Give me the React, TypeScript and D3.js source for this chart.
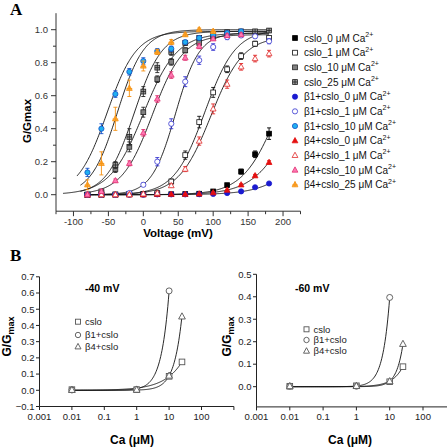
import React from 'react';
import * as d3 from 'd3';

// ---------- Panel A data ----------
const VOLTAGES = [-80, -60, -40, -20, 0, 20, 40, 60, 80, 100, 120, 140, 160, 180];

const G_CSLO_0 = [0.0, 0.0, 0.0, 0.002, 0.002, 0.003, 0.003, 0.004, 0.006, 0.02, 0.058, 0.14, 0.245, 0.37];
const E_CSLO_0 = [0.005, 0.004, 0.004, 0.004, 0.004, 0.004, 0.004, 0.004, 0.005, 0.006, 0.01, 0.015, 0.02, 0.035];
const G_CSLO_1 = [0.0, 0.0, 0.002, 0.004, 0.005, 0.01, 0.08, 0.24, 0.44, 0.62, 0.76, 0.84, 0.915, 0.95];
const E_CSLO_1 = [0.005, 0.005, 0.005, 0.005, 0.005, 0.01, 0.015, 0.025, 0.035, 0.03, 0.02, 0.02, 0.015, 0.01];
const G_CSLO_10 = [0.0, 0.01, 0.155, 0.29, 0.5, 0.7, 0.805, 0.875, 0.92, 0.955, 0.975, 0.98, null, null];
const E_CSLO_10 = [0.005, 0.01, 0.02, 0.03, 0.03, 0.02, 0.02, 0.015, 0.01, 0.01, 0.01, 0.01, null, null];
const G_CSLO_25 = [0.0, 0.02, 0.18, 0.35, 0.625, 0.77, 0.865, 0.92, 0.95, 0.97, 0.985, 0.99, 0.99, 0.995];
const E_CSLO_25 = [0.005, 0.01, 0.02, 0.05, 0.03, 0.03, 0.02, 0.015, 0.01, 0.01, 0.01, 0.01, 0.01, 0.01];
const G_B1_0 = [0.0, 0.0, 0.0, 0.0, 0.0, 0.002, 0.002, 0.002, 0.003, 0.005, 0.01, 0.02, 0.045, 0.068];
const E_B1_0 = [0.004, 0.004, 0.004, 0.004, 0.004, 0.004, 0.004, 0.004, 0.004, 0.004, 0.004, 0.004, 0.005, 0.005];
const G_B1_1 = [0.0, 0.0, 0.0, 0.01, 0.06, 0.2, 0.43, 0.685, 0.815, 0.895, 0.955, 0.965, 0.96, 0.93];
const E_B1_1 = [0.004, 0.004, 0.004, 0.006, 0.01, 0.025, 0.03, 0.03, 0.025, 0.02, 0.015, 0.01, 0.01, 0.015];
const G_B1_10 = [0.135, 0.4, 0.61, 0.745, 0.81, 0.87, 0.885, 0.925, 0.95, 0.97, 0.98, 0.99, null, null];
const E_B1_10 = [0.025, 0.03, 0.02, 0.02, 0.02, 0.015, 0.015, 0.01, 0.01, 0.01, 0.01, 0.01, null, null];
const G_B4_0 = [0.0, 0.0, 0.0, 0.0, 0.0, 0.003, 0.003, 0.003, 0.005, 0.012, 0.028, 0.06, 0.115, 0.196];
const E_B4_0 = [0.004, 0.004, 0.004, 0.004, 0.004, 0.004, 0.004, 0.004, 0.004, 0.004, 0.005, 0.006, 0.008, 0.01];
const G_B4_1 = [0.0, 0.0, 0.0, 0.0, 0.005, 0.01, 0.055, 0.155, 0.325, 0.52, 0.67, 0.775, 0.825, 0.855];
const E_B4_1 = [0.004, 0.004, 0.004, 0.004, 0.005, 0.006, 0.01, 0.015, 0.025, 0.03, 0.025, 0.02, 0.02, 0.02];
const G_B4_10 = [0.0, 0.02, 0.085, 0.19, 0.375, 0.58, 0.725, 0.83, 0.9, 0.945, 0.965, 0.97, null, null];
const E_B4_10 = [0.005, 0.01, 0.01, 0.015, 0.02, 0.02, 0.02, 0.015, 0.015, 0.01, 0.01, 0.01, null, null];
const G_B4_25 = [0.06, 0.19, 0.46, 0.645, 0.78, 0.865, 0.925, 0.97, 1.0, 0.99, null, null, null, null];
const E_B4_25 = [0.03, 0.07, 0.07, 0.05, 0.03, 0.015, 0.015, 0.01, 0.01, 0.01, null, null, null, null];

// Boltzmann fit parameters (order = legend order)
const SERIES_NAMES = [
  'cslo_0', 'cslo_1', 'cslo_10', 'cslo_25',
  'β1+cslo_0', 'β1+cslo_1', 'β1+cslo_10',
  'β4+cslo_0', 'β4+cslo_1', 'β4+cslo_10', 'β4+cslo_25',
];
const FIT_GMAX = [1, 1, 0.98, 0.99, 1, 0.98, 0.99, 1, 0.96, 0.97, 1.0];
const FIT_VHALF = [193, 88, 0, -13, 259, 46, -52, 219, 97, 13, -37];
const FIT_K = [25, 22, 24, 20, 30, 17, 21, 28, 23, 22, 19];
const FIT_VSTART = [-80, -80, -115, -90, -80, -80, -95, -80, -80, -85, -90];
const FIT_VEND = [180, 180, 180, 180, 180, 180, 180, 180, 180, 180, 180];

const X_TICKS_A = [-100, -50, 0, 50, 100, 150, 200];
const X_MINOR_A = [-125, -75, -25, 25, 75, 125, 175, 225];
const Y_TICKS_A = [0, 0.2, 0.4, 0.6, 0.8, 1.0];
const Y_MINOR_A = [0.1, 0.3, 0.5, 0.7, 0.9];

// ---------- Panel B data ----------
const CA = [0.01, 1, 10, 25];
const B40_CSLO = [0.004, 0.004, 0.086, 0.175];
const B40_B1 = [0.002, 0.006, 0.613, null];
const B40_B4 = [0.002, 0.003, 0.09, 0.455];
const B60_CSLO = [0.002, 0.004, 0.022, 0.089];
const B60_B1 = [0.002, 0.002, 0.397, null];
const B60_B4 = [0.002, 0.003, 0.024, 0.19];
// power-law fit parameters: value at 10 µM and exponent
const B40_FIT_G10 = [0.085, 0.61, 0.09];
const B40_FIT_N = [0.79, 1.8, 1.78];
const B60_FIT_G10 = [0.025, 0.397, 0.025];
const B60_FIT_N = [1.4, 2.1, 2.21];
const B_LEGEND = ['cslo', 'β1+cslo', 'β4+cslo'];
const B_MARKERS = ['square', 'circle', 'triangle'];
const X_TICKS_B = [0.001, 0.01, 0.1, 1, 10, 100, 1000];
const Y_TICKS_BL = [-0.1, 0, 0.1, 0.2, 0.3, 0.4, 0.5, 0.6, 0.7];
const Y_TICKS_BR = [0, 0.1, 0.2, 0.3, 0.4, 0.5];

// ---------- styles ----------
type Style = { kind: string; fill: string; stroke: string };
const STYLES: Style[] = [
  { kind: 'square', fill: '#000', stroke: '#000' },
  { kind: 'square', fill: '#fff', stroke: '#111' },
  { kind: 'square', fill: '#808080', stroke: '#222' },
  { kind: 'squareCross', fill: '#9a9a9a', stroke: '#222' },
  { kind: 'circle', fill: '#1a1ad0', stroke: '#1a1ad0' },
  { kind: 'circle', fill: '#fff', stroke: '#3535d0' },
  { kind: 'circle', fill: '#20b0f0', stroke: '#1450c8' },
  { kind: 'triangle', fill: '#e41010', stroke: '#e41010' },
  { kind: 'triangle', fill: '#fff', stroke: '#e02828' },
  { kind: 'triangle', fill: '#ff78b4', stroke: '#e03070' },
  { kind: 'triangleCross', fill: '#ffb040', stroke: '#f59010' },
];
const G_ALL = [G_CSLO_0, G_CSLO_1, G_CSLO_10, G_CSLO_25, G_B1_0, G_B1_1, G_B1_10, G_B4_0, G_B4_1, G_B4_10, G_B4_25];
const E_ALL = [E_CSLO_0, E_CSLO_1, E_CSLO_10, E_CSLO_25, E_B1_0, E_B1_1, E_B1_10, E_B4_0, E_B4_1, E_B4_10, E_B4_25];

const FONT = "'Liberation Sans', Arial, sans-serif";
const SERIF = "'Liberation Serif', 'Times New Roman', serif";

function Marker({ kind, x, y, fill, stroke, s, sw = 0.8 }: any) {
  if (kind === 'square' || kind === 'squareCross') {
    return (
      <g>
        <rect x={x - s / 2} y={y - s / 2} width={s} height={s} fill={fill} stroke={stroke} strokeWidth={sw} />
        {kind === 'squareCross' && (
          <path d={`M${x - s / 2},${y}H${x + s / 2}M${x},${y - s / 2}V${y + s / 2}`} stroke={stroke} strokeWidth={sw} />
        )}
      </g>
    );
  }
  if (kind === 'circle') {
    return <circle cx={x} cy={y} r={s / 2 + 0.2} fill={fill} stroke={stroke} strokeWidth={sw} />;
  }
  const h = s * 1.1;
  const d = `M${x},${y - h * 0.6}L${x + s * 0.6},${y + h * 0.4}L${x - s * 0.6},${y + h * 0.4}Z`;
  return (
    <g>
      <path d={d} fill={fill} stroke={stroke} strokeWidth={sw} strokeLinejoin="miter" />
      {kind === 'triangleCross' && (
        <path d={`M${x - s * 0.6},${y + h * 0.05}H${x + s * 0.6}M${x},${y - h * 0.6}V${y + h * 0.4}`} stroke={stroke} strokeWidth={sw} />
      )}
    </g>
  );
}

function PanelA() {
  const x = d3.scaleLinear().domain([-125, 225]).range([56, 300.5]);
  const y = d3.scaleLinear().domain([-0.1, 1.1]).range([211.2, 13.2]);
  const axisColor = '#333';
  const line = d3.line<[number, number]>().x(d => x(d[0])).y(d => y(d[1])).curve(d3.curveLinear);

  const curves = SERIES_NAMES.map((_, i) => {
    const pts: [number, number][] = d3.range(FIT_VSTART[i], FIT_VEND[i] + 0.01, 1).map(v => [
      v,
      FIT_GMAX[i] / (1 + Math.exp(-(v - FIT_VHALF[i]) / FIT_K[i])),
    ]);
    return <path key={'c' + i} d={line(pts) || ''} fill="none" stroke="#111" strokeWidth={0.9} />;
  });

  const points = SERIES_NAMES.map((_, i) => {
    const st = STYLES[i];
    const gs = G_ALL[i];
    const es = E_ALL[i];
    return (
      <g key={'p' + i}>
        {VOLTAGES.map((v, j) => {
          const g = gs[j];
          if (g === null || g === undefined) return null;
          const e = es[j] || 0;
          const cx = x(v);
          const cy = y(g);
          const ec = st.stroke;
          return (
            <g key={j}>
              {e > 0 && (
                <path
                  d={`M${cx},${y(g - e)}V${y(g + e)}M${cx - 2},${y(g - e)}H${cx + 2}M${cx - 2},${y(g + e)}H${cx + 2}`}
                  stroke={ec}
                  strokeWidth={0.9}
                  fill="none"
                />
              )}
              <Marker kind={st.kind} x={cx} y={cy} fill={st.fill} stroke={st.stroke} s={4.8} />
            </g>
          );
        })}
      </g>
    );
  });

  return (
    <g>
      <text x={10} y={15} fontFamily={SERIF} fontWeight="bold" fontSize={17}>A</text>
      {/* axes */}
      <line x1={56} x2={56} y1={13.2} y2={211.2} stroke={axisColor} strokeWidth={1} />
      <line x1={56} x2={300.5} y1={211.2} y2={211.2} stroke={axisColor} strokeWidth={1} />
      {Y_TICKS_A.map(t => (
        <g key={'yt' + t}>
          <line x1={51} x2={56} y1={y(t)} y2={y(t)} stroke={axisColor} />
          <text x={48} y={y(t) + 3.3} textAnchor="end" fontSize={9.5} fill="#333" fontFamily={FONT}>{d3.format('.1f')(t)}</text>
        </g>
      ))}
      {Y_MINOR_A.map(t => (
        <line key={'ym' + t} x1={53} x2={56} y1={y(t)} y2={y(t)} stroke={axisColor} />
      ))}
      {X_TICKS_A.map(t => (
        <g key={'xt' + t}>
          <line x1={x(t)} x2={x(t)} y1={211.2} y2={216.2} stroke={axisColor} />
          <text x={x(t)} y={225} textAnchor="middle" fontSize={9.5} fill="#333" fontFamily={FONT}>{t}</text>
        </g>
      ))}
      {X_MINOR_A.map(t => (
        <line key={'xm' + t} x1={x(t)} x2={x(t)} y1={211.2} y2={214.2} stroke={axisColor} />
      ))}
      <text x={178} y={237} textAnchor="middle" fontWeight="bold" fontSize={11.5} fontFamily={FONT}>Voltage (mV)</text>
      <text transform="translate(31,121) rotate(-90)" textAnchor="middle" fontWeight="bold" fontSize={11.5} fontFamily={FONT}>G/Gmax</text>
      {curves}
      {points}
      {/* legend */}
      {SERIES_NAMES.map((n, i) => {
        const ly = 38 + i * 14.67;
        const st = STYLES[i];
        return (
          <g key={'lg' + i}>
            <Marker kind={st.kind} x={295} y={ly} fill={st.fill} stroke={st.stroke} s={4.8} />
            <text x={304} y={ly + 3.5} fontSize={10} fontFamily={FONT} fill="#111">
              {n} μM Ca<tspan dy={-4.5} fontSize={7}>2+</tspan>
            </text>
          </g>
        );
      })}
    </g>
  );
}

function PanelB({ side }: { side: 'L' | 'R' }) {
  const isL = side === 'L';
  const x0 = isL ? 39.5 : 256.5;
  const x = d3.scaleLog().domain([0.001, 1000]).range(isL ? [39.5, 233.9] : [256.5, 456.3]);
  const y = isL
    ? d3.scaleLinear().domain([-0.1, 0.7]).range([406.5, 276.8])
    : d3.scaleLinear().domain([-0.09, 0.5]).range([406.9, 274.3]);
  const yBottom = isL ? 406.5 : 406.9;
  const yTop = isL ? 276.8 : 274.3;
  const yTicks = isL ? Y_TICKS_BL : Y_TICKS_BR;
  const data = isL ? [B40_CSLO, B40_B1, B40_B4] : [B60_CSLO, B60_B1, B60_B4];
  const g10 = isL ? B40_FIT_G10 : B60_FIT_G10;
  const nn = isL ? B40_FIT_N : B60_FIT_N;
  const line = d3.line<[number, number]>().x(d => x(d[0])).y(d => y(d[1]));
  const fmtX = (t: number) => (t >= 1 ? String(t) : String(t));
  const legX = isL ? 78 : 306.5;
  const legY = isL ? [321.7, 335, 346.7] : [329.3, 340, 351];
  const ax = '#222';

  return (
    <g fontFamily={FONT}>
      <line x1={x0} x2={x0} y1={yTop} y2={yBottom} stroke={ax} />
      <line x1={x0} x2={isL ? 233.9 : 460} y1={yBottom} y2={yBottom} stroke={ax} />
      {yTicks.map(t => (
        <g key={'y' + t}>
          <line x1={x0 - 3.5} x2={x0} y1={y(t)} y2={y(t)} stroke={ax} />
          <text x={x0 - 5} y={y(t) + 3.3} textAnchor="end" fontSize={9.5} fill="#222">{d3.format('.1f')(t)}</text>
        </g>
      ))}
      {X_TICKS_B.map(t => (
        <g key={'x' + t}>
          <line x1={x(t)} x2={x(t)} y1={yBottom} y2={yBottom + 3.5} stroke={ax} />
          {t < 1000 && (
            <text x={x(t)} y={420} textAnchor="middle" fontSize={9.5} fill="#222">{fmtX(t)}</text>
          )}
        </g>
      ))}
      <text x={isL ? 132 : 350} y={444} textAnchor="middle" fontWeight="bold" fontSize={12}>Ca (μM)</text>
      <text transform={`translate(${isL ? 11 : 231},336.5) rotate(-90)`} textAnchor="middle" fontWeight="bold" fontSize={12}>
        G/G<tspan dy={3} fontSize={9}>max</tspan>
      </text>
      <text x={isL ? 85 : 295} y={isL ? 292 : 292} fontWeight="bold" fontSize={10.5}>{isL ? '-40 mV' : '-60 mV'}</text>
      {data.map((vals, i) => {
        const lastIdx = vals.reduce((acc: number, v, j) => (v !== null ? j : acc), 0);
        const cEnd = CA[lastIdx];
        const pts: [number, number][] = d3
          .range(-2, Math.log10(cEnd) + 1e-9, 0.02)
          .concat([Math.log10(cEnd)])
          .map(l => {
            const c = Math.pow(10, l);
            return [c, g10[i] * Math.pow(c / 10, nn[i])];
          });
        return <path key={'f' + i} d={line(pts) || ''} fill="none" stroke="#111" strokeWidth={0.9} />;
      })}
      {data.map((vals, i) =>
        vals.map((v, j) =>
          v === null ? null : (
            <Marker key={`m${i}-${j}`} kind={B_MARKERS[i]} x={x(CA[j])} y={y(v)} fill="#fff" stroke="#555" s={5.6} sw={0.9} />
          )
        )
      )}
      {B_LEGEND.map((n, i) => (
        <g key={'l' + i}>
          <Marker kind={B_MARKERS[i]} x={legX} y={legY[i]} fill="#fff" stroke="#555" s={5} sw={0.9} />
          <text x={legX + 7} y={legY[i] + 3.4} fontSize={9.5} fill="#222">{n}</text>
        </g>
      ))}
    </g>
  );
}

export default function App() {
  return (
    <svg width={447} height={447} style={{ position: 'absolute', left: 0, top: 0, background: '#fff' }} fontFamily={FONT}>
      <rect x={0} y={0} width={447} height={447} fill="#fff" />
      <PanelA />
      <text x={10} y={261} fontFamily={SERIF} fontWeight="bold" fontSize={17}>B</text>
      <PanelB side="L" />
      <PanelB side="R" />
    </svg>
  );
}
